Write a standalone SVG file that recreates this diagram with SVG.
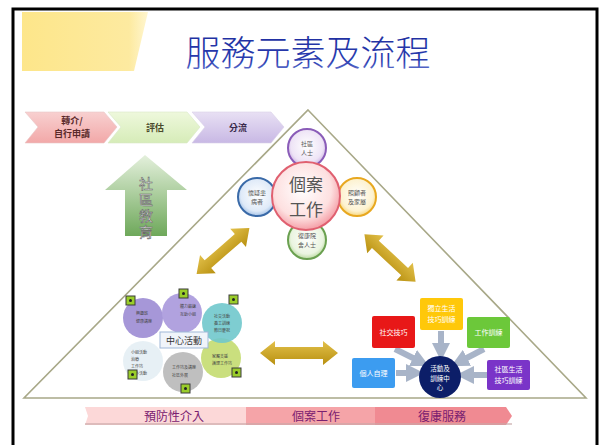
<svg xmlns="http://www.w3.org/2000/svg" width="602" height="445" viewBox="0 0 602 445">
<defs>
<linearGradient id="yel" x1="0" y1="0" x2="1" y2="0"><stop offset="0" stop-color="#fde68a"/><stop offset="0.85" stop-color="#fdeaa0"/><stop offset="1" stop-color="#fff6d0"/></linearGradient>
<linearGradient id="ttl" x1="0" y1="0" x2="0" y2="1"><stop offset="0" stop-color="#1c2a9a"/><stop offset="0.7" stop-color="#2a3cb0"/><stop offset="1" stop-color="#8090dd"/></linearGradient>
<linearGradient id="chP" x1="0" y1="0" x2="0" y2="1"><stop offset="0" stop-color="#f8d0d0"/><stop offset="1" stop-color="#f2a8a8"/></linearGradient>
<linearGradient id="chG" x1="0" y1="0" x2="0" y2="1"><stop offset="0" stop-color="#eef8dc"/><stop offset="1" stop-color="#d6ecb8"/></linearGradient>
<linearGradient id="chV" x1="0" y1="0" x2="0" y2="1"><stop offset="0" stop-color="#e8e0f4"/><stop offset="1" stop-color="#c8b8e4"/></linearGradient>
<linearGradient id="upG" x1="0" y1="0" x2="0" y2="1"><stop offset="0" stop-color="#e4f0dc"/><stop offset="1" stop-color="#6ea85a"/></linearGradient>
<linearGradient id="gold" x1="0" y1="0" x2="0" y2="1"><stop offset="0" stop-color="#e2c04a"/><stop offset="1" stop-color="#b89010"/></linearGradient>
<radialGradient id="rc" cx="0.45" cy="0.4" r="0.6"><stop offset="0" stop-color="#ffffff"/><stop offset="0.7" stop-color="#fde0e0"/><stop offset="1" stop-color="#f5a0a8"/></radialGradient>
<radialGradient id="pc" cx="0.5" cy="0.45" r="0.6"><stop offset="0" stop-color="#ffffff"/><stop offset="0.7" stop-color="#eee4f6"/><stop offset="1" stop-color="#c0a0dc"/></radialGradient>
<radialGradient id="bc" cx="0.5" cy="0.45" r="0.6"><stop offset="0" stop-color="#ffffff"/><stop offset="0.7" stop-color="#dfeaf8"/><stop offset="1" stop-color="#90b4e0"/></radialGradient>
<radialGradient id="yc" cx="0.5" cy="0.45" r="0.6"><stop offset="0" stop-color="#ffffff"/><stop offset="0.7" stop-color="#fdf2d0"/><stop offset="1" stop-color="#f4cc60"/></radialGradient>
<radialGradient id="gc" cx="0.5" cy="0.45" r="0.6"><stop offset="0" stop-color="#ffffff"/><stop offset="0.7" stop-color="#eaf4e0"/><stop offset="1" stop-color="#a8d088"/></radialGradient>
<marker id="gm" viewBox="0 0 10 10" refX="5" refY="5" markerWidth="3" markerHeight="3" orient="auto"><path d="M0,0 L10,5 L0,10 z" fill="#a8b4c8"/></marker>
<style>
.cjk{font-family:"Noto Sans CJK TC","Noto Sans CJK SC",sans-serif;}
.sm{font-size:6px;fill:#555;text-anchor:middle;}
.tiny{font-size:4px;fill:#444;}
.box{font-size:7px;fill:#ffffff;text-anchor:middle;}
.ic{fill:#9acd2a;stroke:#3a3a3a;stroke-width:1;}
.gar{stroke:#a8b4c8;stroke-width:6;fill:none;}
.chv{font-size:9px;font-weight:bold;text-anchor:middle;}
</style>
</defs>
<rect x="0" y="0" width="602" height="445" fill="#ffffff"/>
<rect x="13" y="9" width="584" height="440" fill="none" stroke="#000" stroke-width="3"/>
<polygon points="22,12 148,12 134,71 22,71" fill="url(#yel)"/>
<text x="308" y="66" class="cjk" font-size="35" font-weight="300" text-anchor="middle" fill="url(#ttl)">服務元素及流程</text>

<g id="chevrons" class="cjk">
<g id="referral"><polygon points="25,112 104,112 117,127 104,143 25,143 38,127" fill="url(#chP)" stroke="#e8c8c8" stroke-width="0.6"/><text x="72" y="123.5" class="chv" fill="#5a2a2a">轉介/</text><text x="72" y="136.8" class="chv" fill="#5a2a2a">自行申請</text></g>
<g id="assess"><polygon points="108,112 187,112 200,127 187,143 108,143 121,127" fill="url(#chG)" stroke="#d8e8c8" stroke-width="0.6"/><text x="155" y="131" class="chv" fill="#4a4a2a">評估</text></g>
<g id="triage"><polygon points="192,112 271,112 284,127 271,143 192,143 205,127" fill="url(#chV)" stroke="#d8d0e8" stroke-width="0.6"/><text x="238" y="131" class="chv" fill="#3a2a4a">分流</text></g>
</g>

<g id="community-education" class="cjk">
<polygon points="145,155 187,190 167,190 167,236 125,236 125,190 105,190" fill="url(#upG)"/>
<text x="146" y="177" font-size="14" fill="#fafafa" stroke="#6a6a6a" stroke-width="0.6" style="writing-mode:vertical-rl" letter-spacing="2">社區教育</text>
</g>

<g id="triangle"><polygon points="308,110 586,398 24,398" fill="none" stroke="#a8a888" stroke-width="1.6"/></g>

<g id="connectors">
<g id="arrow-ul"><polygon points="0,-5 20,-5 20,-12 35,0 20,12 20,5 0,5 -20,5 -20,12 -35,0 -20,-12 -20,-5" transform="translate(223,251) rotate(-41)" fill="url(#gold)"/></g>
<g id="arrow-ur"><polygon points="0,-5 20,-5 20,-12 35,0 20,12 20,5 0,5 -20,5 -20,12 -35,0 -20,-12 -20,-5" transform="translate(390,258) rotate(43)" fill="url(#gold)"/></g>
<g id="arrow-h"><polygon points="0,-6 24,-6 24,-12 39,0 24,12 24,6 0,6 -24,6 -24,12 -39,0 -24,-12 -24,-6" transform="translate(299,353)" fill="url(#gold)"/></g>
<g id="gray-arrows">
<line x1="395" y1="349" x2="421" y2="362" class="gar" marker-end="url(#gm)"/>
<line x1="441" y1="331" x2="441" y2="352" class="gar" marker-end="url(#gm)"/>
<line x1="484" y1="349" x2="459" y2="362" class="gar" marker-end="url(#gm)"/>
<line x1="396" y1="373" x2="415" y2="373" class="gar" marker-end="url(#gm)"/>
<line x1="487" y1="375" x2="465" y2="375" class="gar" marker-end="url(#gm)"/>
</g>
</g>

<g id="case-cluster" class="cjk">
<g id="c-top"><circle cx="307" cy="148" r="19" fill="url(#pc)" stroke="#8a5cb8" stroke-width="2"/><text x="307" y="146" class="sm">社區</text><text x="307" y="155" class="sm">人士</text></g>
<g id="c-left"><circle cx="257" cy="197" r="19" fill="url(#bc)" stroke="#3a6aa8" stroke-width="2"/><text x="257" y="195" class="sm">懷疑患</text><text x="257" y="204" class="sm">病者</text></g>
<g id="c-right"><circle cx="357" cy="197" r="19" fill="url(#yc)" stroke="#e8a820" stroke-width="2"/><text x="357" y="195" class="sm">照顧者</text><text x="357" y="204" class="sm">及家屬</text></g>
<g id="c-bottom"><circle cx="307" cy="240" r="19" fill="url(#gc)" stroke="#6aa050" stroke-width="2"/><text x="307" y="238" class="sm">復康院</text><text x="307" y="247" class="sm">舍人士</text></g>
<g id="c-main"><circle cx="306" cy="196" r="34" fill="url(#rc)" stroke="#e06070" stroke-width="2"/><text x="306" y="191" font-size="17" fill="#555" text-anchor="middle">個案</text><text x="306" y="216" font-size="17" fill="#555" text-anchor="middle">工作</text></g>
</g>

<g id="centre-activities" class="cjk">
<circle cx="143" cy="361" r="20" fill="#e4eef4" opacity="0.9"/>
<circle cx="183" cy="372" r="20" fill="#b8b8b8" opacity="0.9"/>
<circle cx="221" cy="358" r="20" fill="#c4dc70" opacity="0.9"/>
<circle cx="222" cy="323" r="20" fill="#70c8cc" opacity="0.9"/>
<circle cx="143" cy="318" r="20" fill="#9c8cd4" opacity="0.9"/>
<circle cx="182" cy="313" r="20" fill="#a898dc" opacity="0.9"/>
<g class="tiny">
<text x="136" y="315">興趣班</text><text x="136" y="323">健康講座</text>
<text x="180" y="308">體力鍛鍊</text><text x="180" y="316">互助小組</text>
<text x="214" y="318">社交活動</text><text x="214" y="325">義工訓練</text><text x="214" y="332">節日慶祝</text>
<text x="212" y="358">家屬支援</text><text x="212" y="365">護理工作坊</text>
<text x="172" y="369">工作坊及講座</text><text x="172" y="377">社區外展</text>
<text x="131" y="354">小組活動</text><text x="131" y="361">治療</text><text x="131" y="368">工作坊</text><text x="131" y="375">戶外活動</text>
</g>
<rect x="160" y="332" width="48" height="16" fill="#f0f4fa" stroke="#a0b8d8" stroke-width="1"/>
<text x="184" y="344" font-size="9" fill="#333" text-anchor="middle">中心活動</text>
<g id="icons">
<rect x="126" y="296" width="9" height="9" class="ic"/><circle cx="130.5" cy="300.5" r="1.5" fill="#222"/>
<rect x="179" y="289" width="9" height="9" class="ic"/><circle cx="183.5" cy="293.5" r="1.5" fill="#222"/>
<rect x="229" y="295" width="9" height="9" class="ic"/><circle cx="233.5" cy="299.5" r="1.5" fill="#222"/>
<rect x="232" y="368" width="9" height="9" class="ic"/><circle cx="236.5" cy="372.5" r="1.5" fill="#222"/>
<rect x="128" y="370" width="9" height="9" class="ic"/><circle cx="132.5" cy="374.5" r="1.5" fill="#222"/>
<rect x="181" y="384" width="9" height="9" class="ic"/><circle cx="185.5" cy="388.5" r="1.5" fill="#222"/>
</g>
</g>

<g id="training-centre" class="cjk">
<g id="b-social"><rect x="372" y="316" width="43" height="32" rx="2" fill="#e81818"/><text x="393.5" y="335" class="box">社交技巧</text></g>
<g id="b-independent"><rect x="420" y="298" width="43" height="32" rx="2" fill="#ffc80a"/><text x="441.5" y="311" class="box">獨立生活</text><text x="441.5" y="322" class="box">技巧訓練</text></g>
<g id="b-work"><rect x="467" y="317" width="43" height="31" rx="2" fill="#6cc83a"/><text x="488.5" y="335" class="box">工作訓練</text></g>
<g id="b-self"><rect x="352" y="358" width="43" height="30" rx="2" fill="#3c9cf0"/><text x="373.5" y="376" class="box">個人自理</text></g>
<g id="b-community"><rect x="487" y="360" width="43" height="30" rx="2" fill="#7a34c8"/><text x="508.5" y="372" class="box">社區生活</text><text x="508.5" y="383" class="box">技巧訓練</text></g>
<g id="c-centre"><circle cx="440" cy="377" r="21" fill="#0c1e68"/><text x="440" y="371" font-size="6.5" fill="#fff" text-anchor="middle">活動及</text><text x="440" y="380.5" font-size="6.5" fill="#fff" text-anchor="middle">訓練中</text><text x="440" y="390" font-size="6.5" fill="#fff" text-anchor="middle">心</text></g>
</g>

<g id="service-bar" class="cjk">
<polygon points="85,407 246,407 246,425 85,425 88,416" fill="#fcd8d8"/>
<polygon points="246,407 375,407 375,425 246,425" fill="#f5a4a8"/>
<polygon points="375,407 506,407 512,416 506,425 375,425" fill="#f08a92"/>
<rect x="85" y="423" width="427" height="2" fill="#c8a8a8" opacity="0.6"/>
<g font-size="12" fill="#7a2070" text-anchor="middle">
<text x="174" y="421">預防性介入</text><text x="316" y="421">個案工作</text><text x="442" y="421">復康服務</text>
</g>
</g>
</svg>
